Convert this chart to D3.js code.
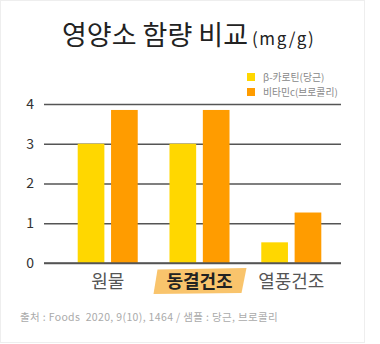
<!DOCTYPE html>
<html>
<head>
<meta charset="utf-8">
<script src="https://cdn.jsdelivr.net/npm/d3@7"></script>
<style>
  html, body { margin: 0; padding: 0; background: #fff; }
  svg { display: block; }
  text { font-family: "Noto Sans CJK KR", "Noto Sans", sans-serif; }
</style>
</head>
<body>
<svg id="chart" width="380" height="344"></svg>
<script>
// 가공 방식별 영양소 함량 (mg/g)
const categories = ["원물", "동결건조", "열풍건조"];
const seriesNames = ["β-카로틴(당근)", "비타민c(브로콜리)"];
const betaCarotene = [3.0, 3.0, 0.52];
const vitaminC = [3.85, 3.85, 1.27];
const yTicks = [0, 1, 2, 3, 4];
const highlighted = "동결건조";

const colors = ["#FFD700", "#FF9C00"];
const rows = categories.map((c, i) => ({ cat: c, values: [betaCarotene[i], vitaminC[i]] }));

const svg = d3.select("#chart");

// 카드 테두리
svg.append("rect")
  .attr("x", 0.5).attr("y", 0.5).attr("width", 364).attr("height", 342)
  .attr("fill", "#fff").attr("stroke", "#eeeeee");

const y = d3.scaleLinear().domain([0, 4]).range([263, 104]);
const x0 = d3.scaleBand().domain(categories).range([77.7, 321.3]).paddingInner(0.346).paddingOuter(0);
const x1 = d3.scaleBand().domain(d3.range(seriesNames.length)).range([0, x0.bandwidth()]).paddingInner(0.2);

// 제목
const title = svg.append("text").attr("x", 62).attr("y", 45).attr("fill", "#222");
title.append("tspan").attr("font-size", 27).attr("font-weight", 400).text("영양소 함량 비교");
title.append("tspan").attr("font-size", 17).attr("dx", 4).attr("letter-spacing", 1.6).text("(mg/g)");

// 눈금선 및 y축
const yAxis = d3.axisLeft(y).tickValues(yTicks).tickSize(-297).tickPadding(10).tickFormat(d3.format("d"));
const gy = svg.append("g").attr("transform", "translate(44,0)").call(yAxis);
gy.select(".domain").remove();
gy.selectAll(".tick line").attr("stroke", "#555").attr("stroke-width", 1.3);
gy.selectAll(".tick text").attr("font-size", 14).attr("fill", "#333").attr("x", -10)
  .attr("font-family", "'Noto Sans', sans-serif");

// 막대
const groups = svg.append("g").selectAll("g").data(rows).join("g")
  .attr("transform", d => `translate(${x0(d.cat)},0)`);
groups.selectAll("rect").data(d => d.values).join("rect")
  .attr("x", (v, i) => x1(i))
  .attr("y", v => y(v))
  .attr("width", x1.bandwidth())
  .attr("height", v => y(0) - y(v))
  .attr("fill", (v, i) => colors[i]);

// 기준선
svg.append("line").attr("x1", 44).attr("x2", 341).attr("y1", y(0)).attr("y2", y(0))
  .attr("stroke", "#555").attr("stroke-width", 1.6);

// x축 라벨 (tick 원점이 각 그룹의 중앙)
const xAxis = d3.axisBottom(x0).tickSize(0).tickPadding(0);
const gx = svg.append("g").call(xAxis);
gx.select(".domain").remove();
gx.selectAll(".tick").filter(d => d === highlighted)
  .insert("path", "text")
  .attr("d", "M-42,269.5 L47,268 L42,293 L-46,294 Z")
  .attr("fill", "#F9C46C");
gx.selectAll(".tick text")
  .attr("y", 288).attr("dy", 0)
  .attr("font-size", 18)
  .attr("font-weight", d => d === highlighted ? 700 : 400)
  .attr("fill", d => d === highlighted ? "#222" : "#555");

// 범례
const legend = svg.append("g").selectAll("g").data(seriesNames).join("g")
  .attr("transform", (d, i) => `translate(247,${73 + i * 15})`);
legend.append("rect").attr("width", 8).attr("height", 8).attr("fill", (d, i) => colors[i]);
legend.append("text").attr("x", 16).attr("y", 7.5).attr("font-size", 9.8).attr("fill", "#888").text(d => d);

// 출처
svg.append("text").attr("x", 20).attr("y", 321).attr("font-size", 10.5).attr("fill", "#aaa")
  .attr("letter-spacing", 0.35)
  .attr("xml:space", "preserve")
  .text("출처 : Foods  2020, 9(10), 1464 / 샘플 : 당근, 브로콜리");
</script>
</body>
</html>
